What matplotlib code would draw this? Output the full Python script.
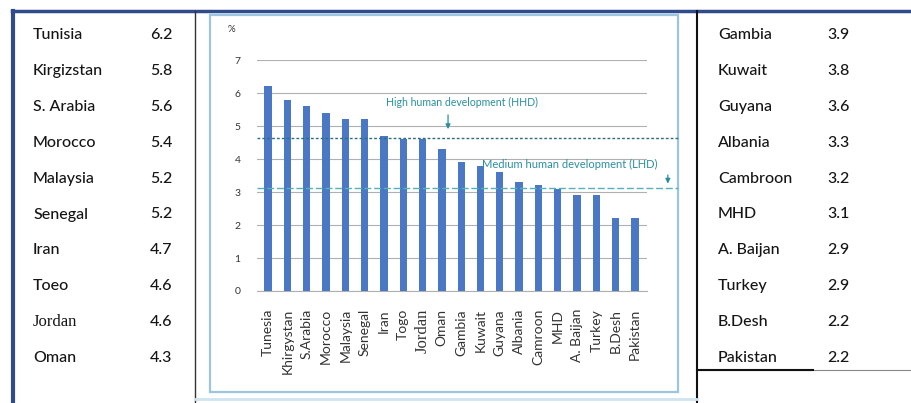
import matplotlib.pyplot as plt
from matplotlib.patches import Rectangle

# table values (left and right panels)
left_names = ["Tunisia", "Kirgizstan", "S. Arabia", "Morocco", "Malaysia",
              "Senegal", "Iran", "Toeo", "Jordan", "Oman"]
left_vals = ["6.2", "5.8", "5.6", "5.4", "5.2", "5.2", "4.7", "4.6", "4.6", "4.3"]
right_names = ["Gambia", "Kuwait", "Guyana", "Albania", "Cambroon",
               "MHD", "A. Baijan", "Turkey", "B.Desh", "Pakistan"]
right_vals = ["3.9", "3.8", "3.6", "3.3", "3.2", "3.1", "2.9", "2.9", "2.2", "2.2"]

# bar chart
countries = ["Tunesia", "Khirgystan", "S.Arabia", "Morocco", "Malaysia", "Senegal",
             "Iran", "Togo", "Jordan", "Oman", "Gambia", "Kuwait", "Guyana",
             "Albania", "Camroon", "MHD", "A. Baijan", "Turkey", "B.Desh", "Pakistan"]
values = [6.2, 5.8, 5.6, 5.4, 5.2, 5.2, 4.7, 4.6, 4.6, 4.3, 3.9, 3.8, 3.6,
          3.3, 3.2, 3.1, 2.9, 2.9, 2.2, 2.2]
hhd = 4.64
mhd = 3.12

plt.rcParams['font.family'] = ['Lato', 'DejaVu Sans']

W, H = 912, 403
fig = plt.figure(figsize=(W / 100, H / 100), dpi=100)

# background axes in pixel coordinates
bg = fig.add_axes([0, 0, 1, 1])
bg.set_xlim(0, W)
bg.set_ylim(H, 0)
bg.axis('off')

# frame lines
bg.plot([12, W], [11, 11], color='#2f4b8c', lw=2.5)
bg.plot([13, 13], [11, H], color='#2f4b8c', lw=3)
bg.plot([195, 195], [11, H], color='#333333', lw=1)
bg.plot([697, 697], [11, H], color='#111111', lw=1.5)
bg.plot([697, W], [370, 370], color='#888888', lw=0.8)
bg.plot([697, 813], [370, 370], color='#111111', lw=1.5)
bg.plot([195, 697], [399, 399], color='#cfe3f0', lw=2)
bg.add_patch(Rectangle((210, 15), 468, 377, fill=False, edgecolor='#9cc5e2', lw=1.6))

tc = '#151515'
row_y = 35
step = 35.9
for i, (n, v) in enumerate(zip(left_names, left_vals)):
    y = row_y + i * step
    if n == "Jordan":
        bg.text(33, y, n, fontsize=12, family='Liberation Serif', color=tc, va='center')
    else:
        bg.text(33, y, n, fontsize=11.5, weight='medium', color=tc, va='center')
    bg.text(150, y, v, fontsize=11.5, weight='medium', color=tc, va='center')
for i, (n, v) in enumerate(zip(right_names, right_vals)):
    y = row_y + i * step
    bg.text(718, y, n, fontsize=11.5, weight='medium', color=tc, va='center')
    bg.text(827, y, v, fontsize=11.5, weight='medium', color=tc, va='center')

# chart axes
x0, x1, ytop, ybot = 257, 647, 60, 291
ax = fig.add_axes([x0 / W, 1 - ybot / H, (x1 - x0) / W, (ybot - ytop) / H])
ax.set_facecolor('none')
pos = list(range(len(countries)))
ax.bar(pos, values, width=0.38, color='#4a78c4', zorder=3)
ax.set_xlim(-0.57, 19.62)
ax.set_ylim(0, 7)
ax.set_yticks(range(0, 8))
ax.grid(axis='y', color='#b0b0b0', lw=0.8, zorder=0)
for s in ['top', 'right', 'left']:
    ax.spines[s].set_visible(False)
ax.spines['bottom'].set_color('#b0b0b0')
ax.tick_params(axis='y', length=0, labelsize=7.5, labelcolor='#333333', pad=12)
ax.tick_params(axis='x', length=0, labelsize=10, labelcolor='#333333', pad=13)
ax.set_xticks(pos)
ax.set_xticklabels(countries, rotation=90)
for lbl in ax.get_xticklabels():
    if lbl.get_text() == "Jordan":
        lbl.set_family('Liberation Serif')
        lbl.set_fontsize(12)
ax.text(-0.055, 1.13, '%', transform=ax.transAxes, fontsize=7, color='#333333',
        ha='right', va='center')

teal = '#2b8ea0'
ax.axhline(hhd, xmin=0, xmax=(678 - x0) / (x1 - x0), color='#2d6f7c', lw=1,
           ls=(0, (2, 1.5)), clip_on=False, zorder=4)
ax.axhline(mhd, xmin=0, xmax=(678 - x0) / (x1 - x0), color='#52b3b8', lw=1,
           ls=(0, (5, 2)), clip_on=False, zorder=4)
ax.text(10.05, 5.7, 'High human development (HHD)', fontsize=7.6, color=teal,
        ha='center', va='center')
ax.annotate('', xy=(9.32, 4.82), xytext=(9.32, 5.42),
            arrowprops=dict(arrowstyle='-|>', color=teal, lw=0.9, mutation_scale=7))
ax.text(15.6, 3.82, 'Medium human development (LHD)', fontsize=8, color=teal,
        ha='center', va='center', clip_on=False)
ax.annotate('', xy=(20.7, 3.17), xytext=(20.7, 3.6),
            arrowprops=dict(arrowstyle='-|>', color=teal, lw=0.9, mutation_scale=7),
            annotation_clip=False)

fig.savefig('out.png', dpi=100)
